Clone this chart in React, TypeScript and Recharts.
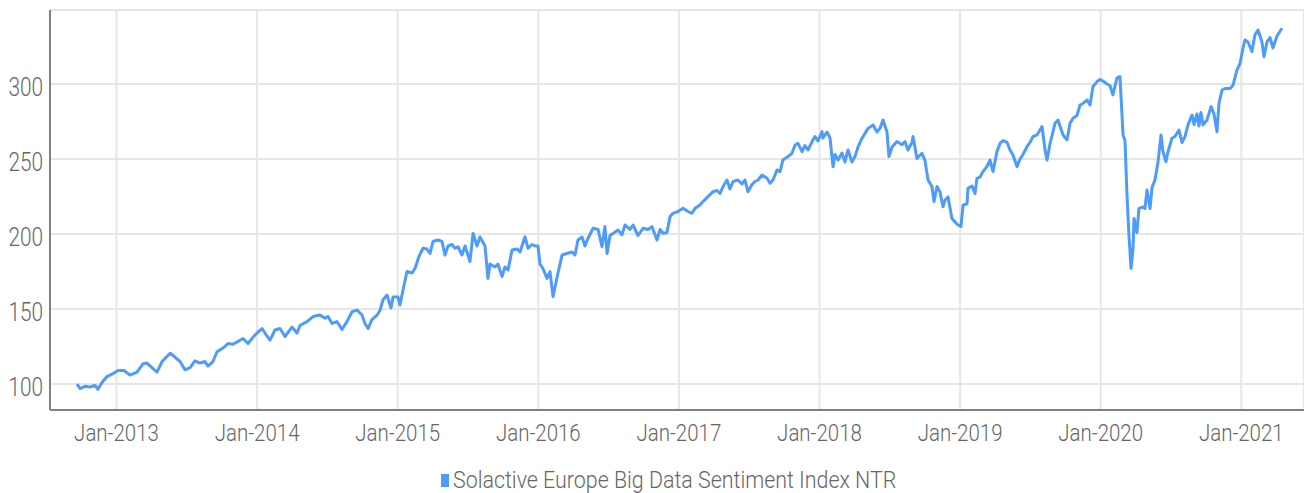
import { LineChart, Line, XAxis, YAxis, CartesianGrid, Legend } from "recharts";

// fraction of the year (0..1) for each reading, and the index level at that point
const f2012 = [0.719, 0.74, 0.776, 0.812, 0.847, 0.868, 0.897, 0.932, 0.975];
const v2012 = [100, 97, 98.5, 98, 99, 96.5, 101, 105, 107];

const f2013 = [0.011, 0.053, 0.096, 0.146, 0.188, 0.217, 0.252, 0.288, 0.324, 0.381, 0.416, 0.452, 0.487, 0.523, 0.558, 0.594, 0.629, 0.651, 0.686, 0.715, 0.757, 0.793, 0.829, 0.857, 0.9, 0.914, 0.935, 0.985];
const v2013 = [109, 109, 106, 108, 113.5, 114, 111, 108, 115, 120.5, 118, 115, 109.5, 111, 115.5, 114, 115, 112, 115, 121.5, 124, 127, 126.5, 128, 130.4, 129, 127, 132.7];

const f2014 = [0.035, 0.056, 0.092, 0.127, 0.163, 0.198, 0.248, 0.284, 0.305, 0.355, 0.398, 0.447, 0.483, 0.504, 0.533, 0.568, 0.604, 0.639, 0.675, 0.711, 0.746, 0.767, 0.789, 0.817, 0.853, 0.874, 0.895, 0.924, 0.952, 0.967];
const v2014 = [137, 134, 129.3, 136, 137, 131.7, 138, 134, 139, 141.6, 145, 146, 143.8, 145, 140.4, 141.6, 136.4, 141.6, 148.2, 149.3, 146, 140.4, 137, 143, 146, 149, 156, 159.3, 150.7, 158];

const f2015 = [0.002, 0.016, 0.038, 0.066, 0.102, 0.123, 0.151, 0.18, 0.208, 0.23, 0.251, 0.287, 0.315, 0.336, 0.358, 0.386, 0.408, 0.429, 0.457, 0.479, 0.514, 0.536, 0.564, 0.585, 0.621, 0.642, 0.656, 0.692, 0.713, 0.742, 0.763, 0.785, 0.813, 0.849, 0.87, 0.905, 0.927, 0.955, 0.977, 0.998];
const v2015 = [158, 152.7, 162.7, 175, 174, 177, 185, 190.5, 190, 187, 195, 196, 195, 186, 192, 193, 190.5, 191.5, 186, 192, 181.6, 200.4, 192, 198, 192, 170.4, 180, 178, 180, 171.6, 178, 176, 189.3, 190, 188, 198.2, 190.5, 193, 192, 192];

const f2016 = [0.012, 0.033, 0.062, 0.083, 0.105, 0.133, 0.169, 0.204, 0.24, 0.261, 0.282, 0.311, 0.332, 0.353, 0.389, 0.425, 0.453, 0.474, 0.489, 0.51, 0.531, 0.567, 0.595, 0.617, 0.652, 0.674, 0.709, 0.745, 0.78, 0.809, 0.844, 0.866, 0.887, 0.915, 0.937, 0.958, 0.994];
const v2016 = [180, 177, 170.4, 175, 158.2, 171, 186, 187, 188, 186, 196, 198, 192, 197, 203.8, 203, 191.6, 205, 187, 199, 200.4, 202.6, 199.5, 206, 203, 206, 199, 203.8, 203, 204.9, 196, 203, 200.4, 201, 211.6, 213.8, 215];

const f2017 = [0.029, 0.065, 0.093, 0.115, 0.15, 0.171, 0.207, 0.243, 0.271, 0.292, 0.314, 0.342, 0.363, 0.385, 0.42, 0.449, 0.47, 0.491, 0.52, 0.541, 0.563, 0.591, 0.627, 0.648, 0.669, 0.698, 0.719, 0.74, 0.776, 0.804, 0.826, 0.847, 0.876, 0.897, 0.918, 0.947, 0.968, 0.989];
const v2017 = [217.1, 215, 213.8, 217.1, 219.3, 221.6, 224.9, 228.2, 229, 227, 231.6, 236, 230, 234.9, 236, 233.3, 236, 228.2, 233, 235, 236, 239.3, 237.1, 233.8, 236, 242.7, 241.5, 249.3, 251.6, 253.8, 259.3, 260.4, 254.9, 259, 256, 261.6, 264.9, 262];

const f2018 = [0.018, 0.025, 0.053, 0.075, 0.096, 0.11, 0.132, 0.16, 0.181, 0.203, 0.231, 0.252, 0.274, 0.302, 0.324, 0.345, 0.381, 0.409, 0.43, 0.452, 0.48, 0.494, 0.516, 0.551, 0.587, 0.608, 0.629, 0.658, 0.665, 0.693, 0.729, 0.75, 0.772, 0.8, 0.814, 0.836, 0.857, 0.878, 0.893, 0.914, 0.942, 0.964, 0.985];
const v2018 = [268.2, 264, 268, 264, 244.9, 253, 249.3, 254, 248, 256, 248, 251.6, 258, 263.8, 267.1, 270.4, 272.7, 268, 270.4, 276, 268, 251.6, 258, 261.6, 259.5, 261.6, 256, 261, 265, 250.4, 253.8, 249, 236, 231.6, 221.6, 231.6, 228, 218.2, 222.7, 224.7, 210.4, 208, 206];

const f2019 = [0.006, 0.021, 0.049, 0.056, 0.085, 0.106, 0.12, 0.142, 0.163, 0.191, 0.213, 0.234, 0.262, 0.284, 0.305, 0.334, 0.355, 0.376, 0.405, 0.426, 0.447, 0.476, 0.497, 0.518, 0.547, 0.583, 0.604, 0.618, 0.639, 0.675, 0.696, 0.732, 0.76, 0.782, 0.803, 0.831, 0.853, 0.874, 0.903, 0.924, 0.945, 0.974, 0.995];
const v2019 = [205, 219.3, 220, 230.4, 232, 227, 237.1, 238, 241.6, 245, 249.3, 241.6, 254.9, 260.4, 262.2, 261, 256, 252.7, 244.9, 250, 253, 258.2, 261, 264.9, 266, 271.6, 256, 249.3, 260, 273.8, 276, 266, 262.7, 273.8, 277.1, 279, 286, 287, 289.3, 286, 298.2, 301.6, 303];

const f2020 = [0.016, 0.045, 0.066, 0.087, 0.116, 0.137, 0.159, 0.173, 0.187, 0.201, 0.216, 0.23, 0.237, 0.258, 0.272, 0.301, 0.315, 0.329, 0.351, 0.365, 0.386, 0.408, 0.429, 0.443, 0.464, 0.479, 0.507, 0.528, 0.557, 0.578, 0.6, 0.621, 0.649, 0.664, 0.685, 0.699, 0.713, 0.728, 0.756, 0.785, 0.806, 0.827, 0.841, 0.863, 0.884, 0.92, 0.941, 0.969, 0.991];
const v2020 = [302, 300, 299, 292.7, 304, 304.9, 266, 262.2, 226, 199.3, 177.1, 190.5, 210.4, 201, 217.1, 218, 217, 229.3, 217, 231, 236, 248.2, 266, 254.9, 248.2, 255, 263.8, 265, 269.3, 261, 265, 272.7, 279.3, 273, 280, 272, 281, 272.7, 276, 284.9, 280, 268.2, 287.1, 296, 297, 297, 299, 309.3, 313.8];

const f2021 = [0.012, 0.026, 0.048, 0.076, 0.097, 0.119, 0.147, 0.161, 0.183, 0.204, 0.225, 0.254, 0.289];
const v2021 = [323.8, 329.3, 328, 321.6, 332.7, 336, 328, 318.2, 328, 331, 324, 332, 337.1];

const years = [2012, 2013, 2014, 2015, 2016, 2017, 2018, 2019, 2020, 2021];
const fracs = [f2012, f2013, f2014, f2015, f2016, f2017, f2018, f2019, f2020, f2021];
const vals = [v2012, v2013, v2014, v2015, v2016, v2017, v2018, v2019, v2020, v2021];

const xTicks = [2013, 2014, 2015, 2016, 2017, 2018, 2019, 2020, 2021];
const yTicks = [100, 150, 200, 250, 300];
const seriesName = "Solactive Europe Big Data Sentiment Index NTR";

const data = years.flatMap((yr, i) => fracs[i].map((f, j) => ({ t: yr + f, v: vals[i][j] })));

const FONT = "Roboto, 'Noto Sans', sans-serif";
const TEXT = "#666";
const BLUE = "#4d9bfb";

const XTick = ({ x, y, payload }: any) => (
  <g transform={`translate(${x},${y})`}>
    <text x={0} y={0} dy={23} textAnchor="middle" fill={TEXT} fontSize={23} fontWeight={300} fontFamily={FONT} transform="scale(0.89,1)">
      {`Jan-${payload.value}`}
    </text>
  </g>
);

const YTick = ({ x, y, payload }: any) => (
  <g transform={`translate(${x + 1},${y})`}>
    <text x={0} y={0} dy={12} textAnchor="end" fill={TEXT} fontSize={26} fontWeight={300} fontFamily={FONT} transform="scale(0.8,1)">
      {payload.value}
    </text>
  </g>
);

const LegendBox = () => (
  <div style={{ height: 38, paddingTop: 13, boxSizing: "border-box", display: "flex", alignItems: "center" }}>
    <div style={{ marginLeft: 441, width: 8, height: 13, background: BLUE }} />
    <span
      style={{
        marginLeft: 4,
        display: "inline-block",
        fontFamily: FONT,
        fontWeight: 300,
        fontSize: 23,
        lineHeight: "24px",
        color: TEXT,
        whiteSpace: "nowrap",
        transform: "scaleX(0.93)",
        transformOrigin: "left center",
      }}
    >
      {seriesName}
    </span>
  </div>
);

export default function App() {
  return (
    <div style={{ position: "absolute", left: 0, top: 0, width: 1304, height: 493, background: "#fff" }}>
      <LineChart width={1304} height={493} data={data} margin={{ top: 10, right: 0, left: 0, bottom: 0 }}>
        <CartesianGrid stroke="#e6e6e6" strokeWidth={2} />
        <XAxis
          dataKey="t"
          type="number"
          domain={[2012.527, 2021.446]}
          ticks={xTicks}
          allowDataOverflow
          height={45}
          tickLine={false}
          axisLine={{ stroke: "#808080", strokeWidth: 2 }}
          tick={<XTick />}
        />
        <YAxis
          type="number"
          domain={[82.7, 349.3]}
          ticks={yTicks}
          allowDataOverflow
          width={50}
          tickLine={false}
          axisLine={{ stroke: "#808080", strokeWidth: 2 }}
          tick={<YTick />}
        />
        <Legend verticalAlign="bottom" content={<LegendBox />} wrapperStyle={{ left: 0, width: 1304 }} />
        <Line
          name={seriesName}
          dataKey="v"
          type="linear"
          stroke={BLUE}
          strokeWidth={3}
          strokeLinejoin="round"
          dot={false}
          isAnimationActive={false}
        />
      </LineChart>
    </div>
  );
}
